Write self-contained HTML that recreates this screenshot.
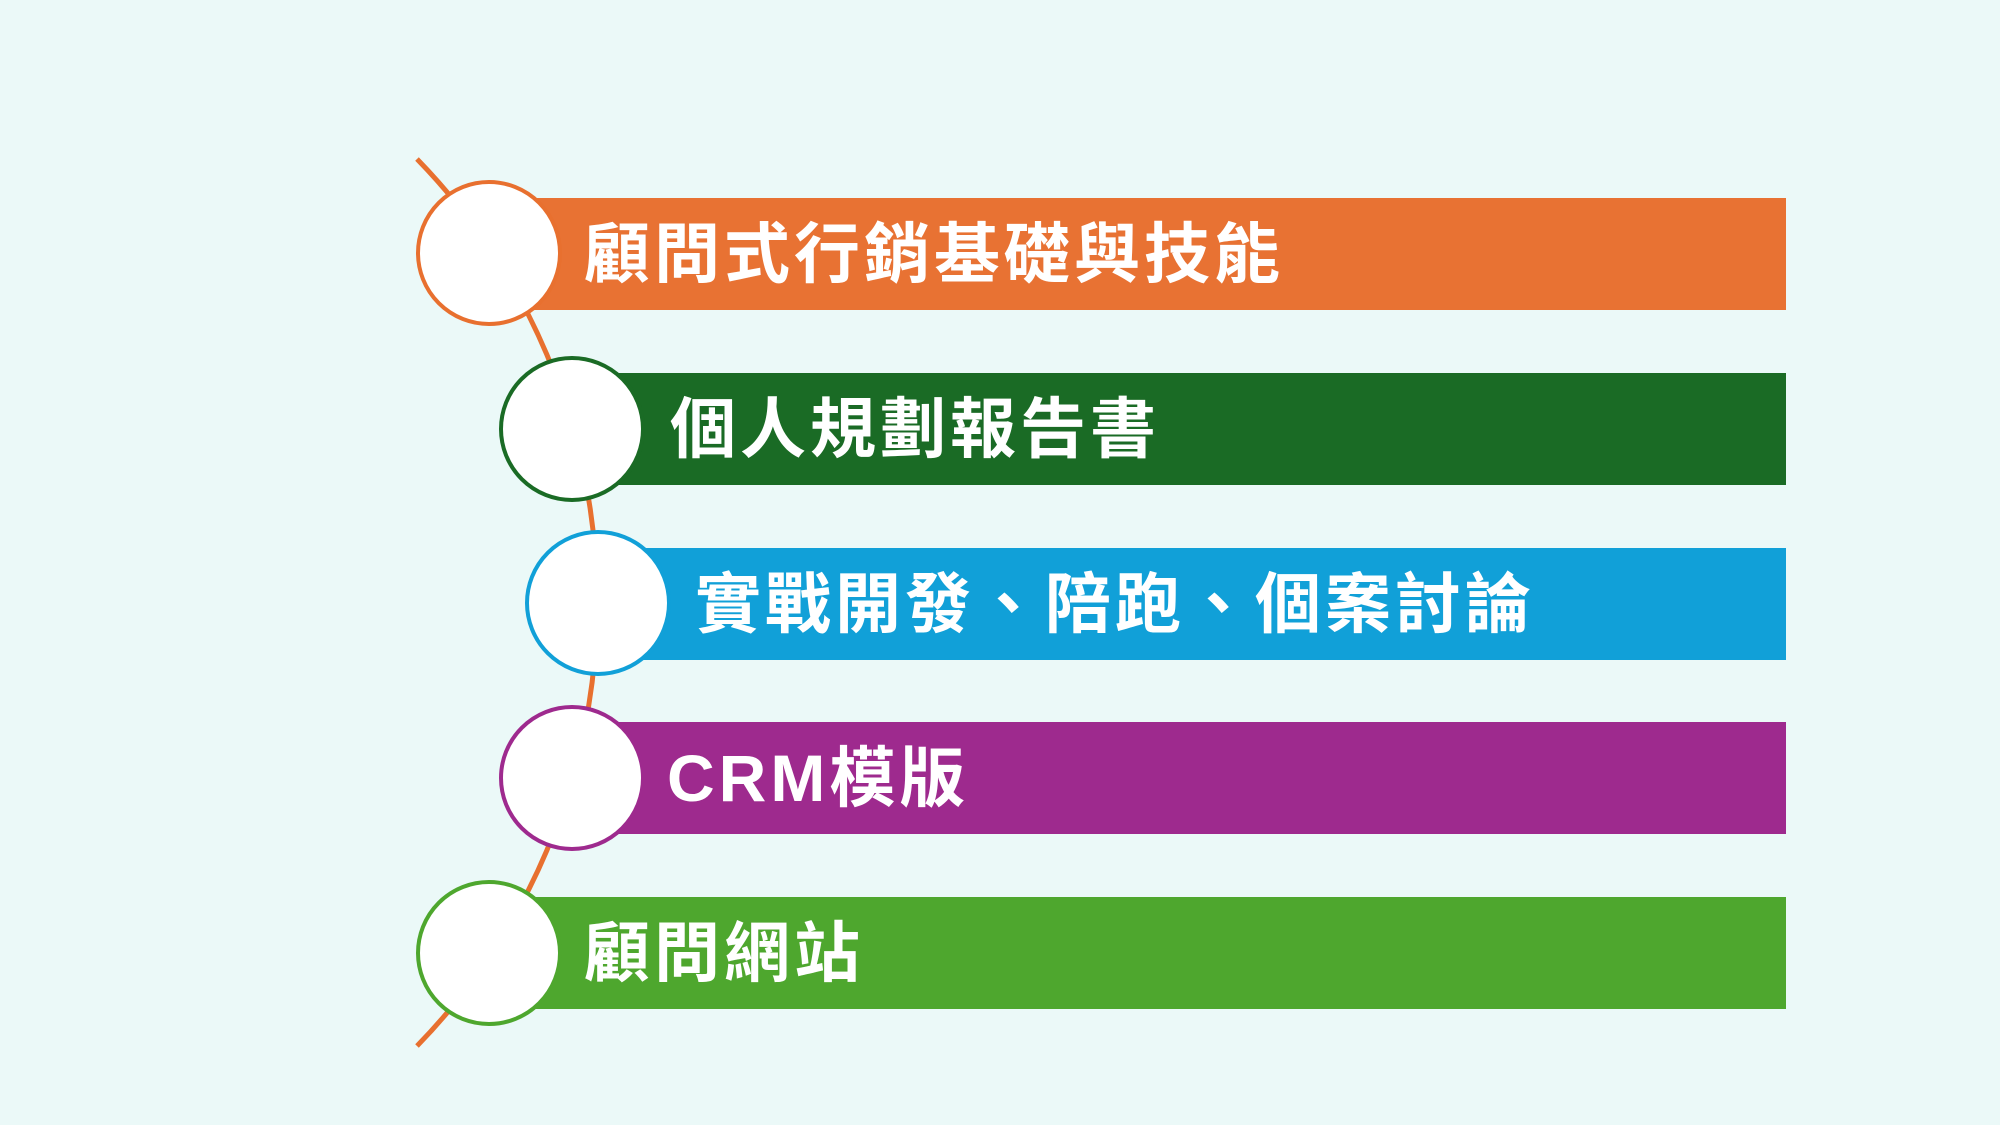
<!DOCTYPE html>
<html><head><meta charset="utf-8"><style>
html,body{margin:0;padding:0}
body{width:2000px;height:1125px;background:#EBF9F8;position:relative;overflow:hidden;font-family:"Liberation Sans","Noto Sans CJK TC",sans-serif}
.bar{position:absolute;right:214px;height:112px;color:#fff;font-weight:bold;font-size:66px;letter-spacing:4px;line-height:112px;box-sizing:border-box}
.c{position:absolute;width:146px;height:146px;border-radius:50%;background:#fff;border:4px solid;box-sizing:border-box}
</style></head><body>
<svg width="2000" height="1125" style="position:absolute;left:0;top:0">
<path d="M417 159 A636 636 0 0 1 417 1046" fill="none" stroke="#E8702F" stroke-width="5"/>
</svg>
<div class="bar" style="left:488px;top:198px;background:#E87233;padding-left:96px">顧問式行銷基礎與技能</div>
<div class="bar" style="left:571px;top:373px;background:#1A6B25;padding-left:99px">個人規劃報告書</div>
<div class="bar" style="left:597px;top:548px;background:#11A0D8;padding-left:98px">實戰開發、陪跑、個案討論</div>
<div class="bar" style="left:571px;top:722px;background:#9E2A8E;padding-left:96px">CRM模版</div>
<div class="bar" style="left:488px;top:897px;background:#4EA72E;padding-left:96px">顧問網站</div>
<div class="c" style="left:416px;top:180px;border-color:#E8702F"></div>
<div class="c" style="left:499px;top:356px;border-color:#1A6B25"></div>
<div class="c" style="left:525px;top:530px;border-color:#11A0D8"></div>
<div class="c" style="left:499px;top:705px;border-color:#9E2A8E"></div>
<div class="c" style="left:416px;top:880px;border-color:#4EA72E"></div>
</body></html>
